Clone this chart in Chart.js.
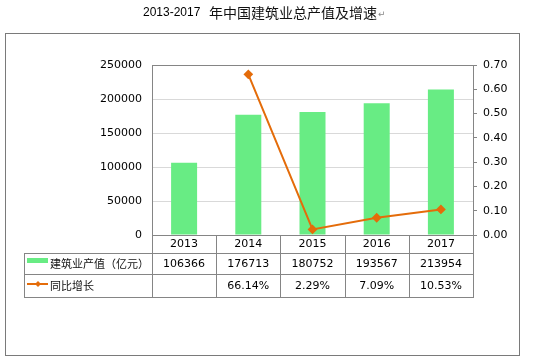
<!DOCTYPE html>
<html><head><meta charset="utf-8">
<script src="https://cdn.jsdelivr.net/npm/chart.js@4"></script>
<style>html,body{margin:0;padding:0;background:#fff;}#wrap{width:552px;height:359px;}</style>
</head><body><div id="wrap"><canvas id="c" width="552" height="359"></canvas></div>
<script>
const categories = ['2013', '2014', '2015', '2016', '2017'];
const outputValues = [106366, 176713, 180752, 193567, 213954];
const growthRates = [null, 0.6614, 0.0229, 0.0709, 0.1053];
const leftAxis = {min: 0, max: 250000, step: 50000};
const rightAxis = {min: 0, max: 0.7, step: 0.1};
const seriesNames = ['建筑业产值（亿元）', '同比增长'];
const titleYears = '2013-2017';
const titleRest = '年中国建筑业总产值及增速';

const GREEN = '#68EC84';
const ORANGE = '#E46C0A';
const BORDER = '#858585';

const tablePlugin = {
  id: 'tablePlugin',
  afterDraw(chart) {
    const ctx = chart.ctx;
    const ca = chart.chartArea;
    const xs = chart.scales.x;
    ctx.save();
    // title
    ctx.fillStyle = '#000';
    ctx.textBaseline = 'middle';
    ctx.textAlign = 'left';
    ctx.font = '12px "Liberation Sans", Arial, sans-serif';
    ctx.fillText(titleYears, 143, 13);
    ctx.font = '14px "Noto Sans CJK SC", sans-serif';
    ctx.fillStyle = '#111';
    ctx.fillText(titleRest, 209, 13);
    const tw = ctx.measureText(titleRest).width;
    ctx.fillStyle = '#888';
    ctx.font = '9px "DejaVu Sans", sans-serif';
    ctx.fillText('↵', 210 + tw, 15);

    // outer frame
    ctx.strokeStyle = '#7a7a7a';
    ctx.lineWidth = 1;
    ctx.strokeRect(5.5, 33.5, 514, 322);

    // plot border
    ctx.strokeStyle = BORDER;
    ctx.strokeRect(Math.round(ca.left) + 0.5, Math.round(ca.top) + 0.5,
      Math.round(ca.right - ca.left), Math.round(ca.bottom - ca.top));

    // table
    const n = categories.length;
    const colW = (ca.right - ca.left) / n;
    const rowY = [Math.round(ca.bottom), 253, 274, 297];
    const legendLeft = 24;
    ctx.strokeStyle = BORDER;
    ctx.beginPath();
    for (let i = 0; i <= n; i++) {
      const x = Math.round(ca.left + i * colW) + 0.5;
      ctx.moveTo(x, rowY[0]);
      ctx.lineTo(x, rowY[3] + 0.5);
    }
    ctx.moveTo(legendLeft + 0.5, rowY[1]);
    ctx.lineTo(legendLeft + 0.5, rowY[3] + 0.5);
    for (let r = 1; r < 4; r++) {
      ctx.moveTo(legendLeft, rowY[r] + 0.5);
      ctx.lineTo(Math.round(ca.right) + 1, rowY[r] + 0.5);
    }
    ctx.stroke();

    ctx.fillStyle = '#000';
    ctx.textAlign = 'center';
    ctx.textBaseline = 'middle';
    ctx.font = '11px "DejaVu Sans", sans-serif';
    const centers = [(rowY[0] + rowY[1]) / 2 + 0.5, (rowY[1] + rowY[2]) / 2 + 0.5, (rowY[2] + rowY[3]) / 2 + 0.5];
    categories.forEach((c, i) => {
      const x = xs.getPixelForValue(i);
      ctx.fillText(c, x, centers[0]);
      ctx.fillText(String(outputValues[i]), x, centers[1]);
      if (growthRates[i] !== null) ctx.fillText((growthRates[i] * 100).toFixed(2) + '%', x, centers[2]);
    });

    // legend keys
    ctx.fillStyle = GREEN;
    ctx.fillRect(27, centers[1] - 6, 21, 5);
    ctx.strokeStyle = ORANGE;
    ctx.lineWidth = 2;
    ctx.beginPath();
    ctx.moveTo(27, centers[2] - 2);
    ctx.lineTo(48, centers[2] - 2);
    ctx.stroke();
    ctx.fillStyle = ORANGE;
    ctx.beginPath();
    const dx = 38, dy = centers[2] - 2;
    ctx.moveTo(dx, dy - 3); ctx.lineTo(dx + 3, dy); ctx.lineTo(dx, dy + 3); ctx.lineTo(dx - 3, dy); ctx.closePath();
    ctx.fill();

    ctx.fillStyle = '#111';
    ctx.textAlign = 'left';
    ctx.font = '11px "Noto Sans CJK SC", sans-serif';
    ctx.fillText(seriesNames[0], 50, centers[1]);
    ctx.fillText(seriesNames[1], 50, centers[2]);
    ctx.restore();
  }
};

new Chart(document.getElementById('c'), {
  data: {
    labels: categories,
    datasets: [
      {
        type: 'line', label: seriesNames[1], data: growthRates, yAxisID: 'y1', order: 0,
        borderColor: ORANGE, backgroundColor: ORANGE, borderWidth: 2,
        pointStyle: 'rectRot', pointRadius: 3.5, pointBackgroundColor: ORANGE, pointBorderColor: ORANGE,
        tension: 0, spanGaps: false
      },
      {
        type: 'bar', label: seriesNames[0], data: outputValues, yAxisID: 'y', order: 1,
        backgroundColor: GREEN, borderWidth: 0, categoryPercentage: 1, barPercentage: 0.405
      }
    ]
  },
  options: {
    responsive: false, animation: false, devicePixelRatio: 1,
    layout: {padding: {left: 0, right: 0, top: 65, bottom: 0}},
    plugins: {legend: {display: false}, title: {display: false}, tooltip: {enabled: false}},
    scales: {
      x: {
        type: 'category', offset: true,
        grid: {display: false}, border: {display: false},
        ticks: {display: false},
        afterFit(s) { s.height = 124; }
      },
      y: {
        position: 'left', min: leftAxis.min, max: leftAxis.max,
        ticks: {stepSize: leftAxis.step, padding: 10, color: '#000', font: {family: 'DejaVu Sans', size: 11},
          callback: v => String(v)},
        grid: {color: '#d9d9d9', drawTicks: false},
        border: {display: false},
        afterFit(s) { s.width = 152; }
      },
      y1: {
        position: 'right', min: rightAxis.min, max: rightAxis.max,
        ticks: {stepSize: rightAxis.step, padding: 6, color: '#000', font: {family: 'DejaVu Sans', size: 11},
          callback: v => Number(v).toFixed(2)},
        grid: {drawOnChartArea: false, drawTicks: true, tickLength: 4, color: BORDER},
        border: {display: false},
        afterFit(s) { s.width = 79; }
      }
    }
  },
  plugins: [tablePlugin]
});
</script>
</body></html>
